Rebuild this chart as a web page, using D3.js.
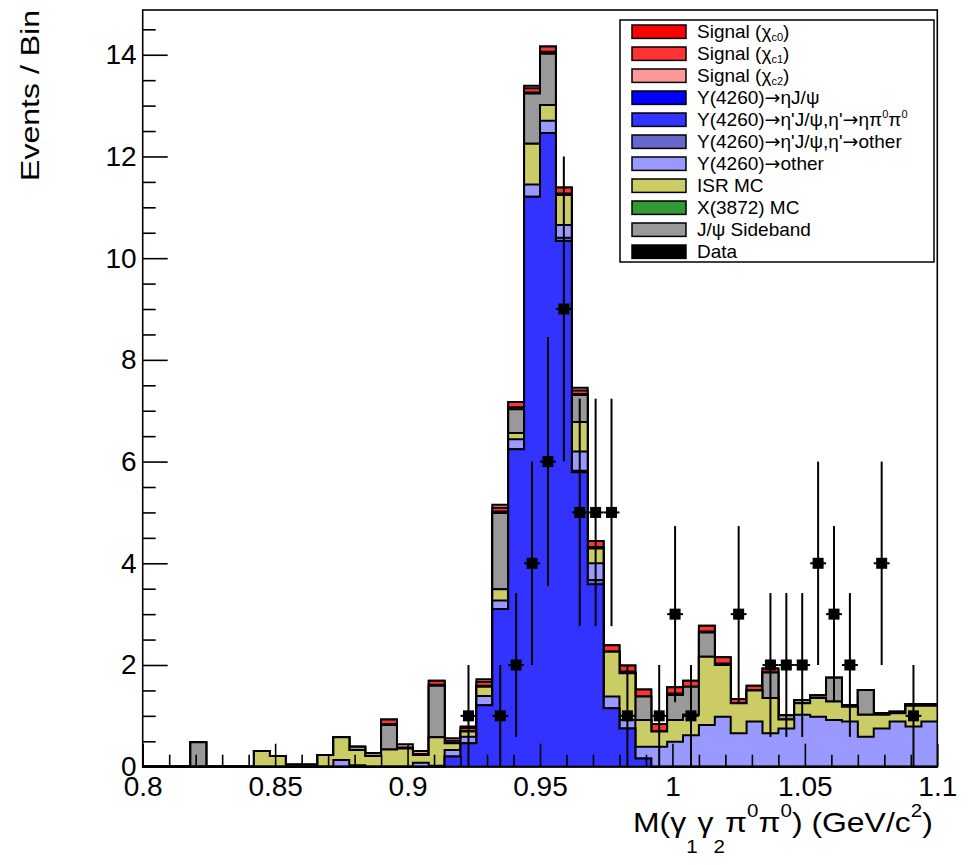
<!DOCTYPE html>
<html><head><meta charset="utf-8">
<script src="https://cdn.jsdelivr.net/npm/d3@7"></script>
<style>
body{margin:0;background:#fff}
svg{font-family:"Liberation Sans",Arial,Helvetica,sans-serif;display:block}
</style>
</head><body>
<svg id="chart" width="973" height="865"></svg>
<script>
// ---------- data ----------
const binStart = 0.8, binWidth = 0.006, nBins = 50;
const xTickValues = [0.8, 0.85, 0.9, 0.95, 1.0, 1.05, 1.1];
const xTickLabels = ["0.8", "0.85", "0.9", "0.95", "1", "1.05", "1.1"];
const yTickValues = [0, 2, 4, 6, 8, 10, 12, 14];
const yTickLabels = ["0", "2", "4", "6", "8", "10", "12", "14"];

const etaJpsi = [0,0,0,0,0,0,0,0,0,0, 0,0,0,0,0,0,0,0,0,0, 0,0,0,0,0,0,0,0,0,0, 0,0,0,0,0,0,0,0,0,0, 0,0,0,0,0,0,0,0,0,0];
const etaPrimeEtaPiPi = [0,0,0,0,0,0,0,0,0,0, 0,0,0,0,0,0,0,0,0,0.20, 0.46,1.21,3.10,6.24,11.21,12.46,10.34,5.79,3.59,1.15, 0.75,0.16,0,0,0,0,0,0,0,0, 0,0,0,0,0,0,0,0,0,0];
const etaPrimeOther = [0,0,0,0,0,0,0,0,0,0, 0,0,0,0,0,0,0,0,0,0, 0,0,0,0,0,0,0.06,0.03,0.08,0, 0,0,0,0,0,0,0,0,0,0, 0,0,0,0,0,0,0,0,0,0];
const otherY = [0,0,0,0,0,0,0,0,0,0, 0,0,0.13,0.03,0,0,0,0.08,0.02,0.13, 0.13,0.18,0.17,0.20,0.24,0.24,0.25,0.38,0.33,0.23, 0.17,0.23,0.39,0.49,0.62,0.82,0.98,0.66,0.89,0.66, 0.75,1.02,0.98,0.92,0.89,0.59,0.75,0.89,0.79,0.89];
const isrMC = [0,0,0,0,0,0,0,0.31,0.21,0.04, 0.04,0.23,0.45,0.30,0.21,0.34,0.36,0.15,0.56,0.13, 0.10,0.18,0.22,0.12,0.80,0.31,0.59,0.58,0.29,0.88, 0.92,0.53,0.30,0.43,0.40,1.34,1.02,0.59,0.61,0.69, 0.18,0.23,0.37,0.36,0.29,0.43,0.27,0.16,0.41,0.31];
const x3872MC = [0,0,0,0,0,0,0,0,0,0, 0,0,0,0,0,0,0,0,0,0, 0,0,0,0,0,0,0,0,0,0, 0,0,0,0,0,0,0,0,0,0, 0,0,0,0,0,0,0,0,0,0];
const jpsiSideband = [0,0,0,0.48,0,0,0,0,0,0, 0,0,0,0.06,0.06,0.48,0,0,1.01,0, 0,0,1.50,0.47,0.99,1.01,0,0.53,0,0, 0,0.46,0,0.49,0.55,0.48,0,0,0,0.50, 0.08,0.06,0.05,0.47,0.03,0.49,0.03,0.03,0.03,0.03];
const signalC0 = [0,0,0,0,0,0,0,0,0,0, 0,0,0,0,0,0.02,0,0,0.02,0, 0,0.02,0.03,0.04,0.02,0.04,0.03,0.02,0.03,0, 0.03,0,0,0.03,0,0.02,0.03,0,0,0, 0,0,0,0,0,0,0,0,0,0];
const signalC1 = [0,0,0,0,0,0,0,0,0,0, 0,0,0,0,0,0.09,0.02,0.02,0.08,0.05, 0.07,0.08,0.07,0.10,0.08,0.10,0.12,0.07,0.12,0.13, 0.12,0.14,0.15,0.12,0.12,0.11,0.12,0.08,0.09,0.08, 0,0,0,0,0,0,0,0,0,0];
const signalC2 = [0,0,0,0,0,0,0,0,0,0, 0,0,0,0,0,0,0.06,0.06,0,0.05, 0.03,0.05,0.06,0,0.05,0,0,0.05,0,0, 0,0,0,0,0,0,0,0,0,0, 0,0,0,0,0,0,0,0,0,0];
const dataCounts = [0,0,0,0,0,0,0,0,0,0, 0,0,0,0,0,0,0,0,0,0, 1,0,1,2,4,6,9,5,5,5, 1,0,1,3,1,0,0,3,0,2, 2,2,4,3,2,0,4,0,1,0];

// stacking order bottom -> top, and legend entries
const stackKeys = ["etaJpsi","etaPrimeEtaPiPi","etaPrimeOther","otherY","isrMC","x3872MC","jpsiSideband","signalC0","signalC1","signalC2"];
const stackValues = {etaJpsi, etaPrimeEtaPiPi, etaPrimeOther, otherY, isrMC, x3872MC, jpsiSideband, signalC0, signalC1, signalC2};
const colors = {
  signalC0:"#ff0000", signalC1:"#ff3333", signalC2:"#ff9999",
  etaJpsi:"#0000ff", etaPrimeEtaPiPi:"#3333ff", etaPrimeOther:"#6666cc",
  otherY:"#9999ff", isrMC:"#cccc66", x3872MC:"#339933", jpsiSideband:"#999999", data:"#000000"
};
const legendKeys = ["signalC0","signalC1","signalC2","etaJpsi","etaPrimeEtaPiPi","etaPrimeOther","otherY","isrMC","x3872MC","jpsiSideband","data"];
const legendLabels = [
  [["Signal (\u03c7",""],["c0","sub"],[")",""]],
  [["Signal (\u03c7",""],["c1","sub"],[")",""]],
  [["Signal (\u03c7",""],["c2","sub"],[")",""]],
  [["Y(4260)\u2192\u03b7J/\u03c8",""]],
  [["Y(4260)\u2192\u03b7'J/\u03c8,\u03b7'\u2192\u03b7\u03c0",""],["0","sup"],["\u03c0",""],["0","sup"]],
  [["Y(4260)\u2192\u03b7'J/\u03c8,\u03b7'\u2192other",""]],
  [["Y(4260)\u2192other",""]],
  [["ISR MC",""]],
  [["X(3872) MC",""]],
  [["J/\u03c8 Sideband",""]],
  [["Data",""]]
];
const xTitle = [["M(\u03b3",""],["1","sub"],["\u03b3",""],["2","sub"],["\u03c0",""],["0","sup"],["\u03c0",""],["0","sup"],[") (GeV/c",""],["2","sup"],[")",""]];
const yTitle = "Events / Bin";

// ---------- layout ----------
const X0 = 142.7, X1 = 937.3, Y0 = 766.7, Y1 = 10;
const svg = d3.select("#chart");
const x = d3.scaleLinear().domain([0.8, 1.1]).range([X0, X1]);
const y = d3.scaleLinear().domain([0, 14.88]).range([Y0, Y1]);

const binEdges = d3.range(nBins + 1).map(i => +(binStart + i * binWidth).toFixed(4));
const rows = d3.range(nBins).map(i => {
  const r = {};
  stackKeys.forEach(k => r[k] = stackValues[k][i]);
  return r;
});
const series = d3.stack().keys(stackKeys)(rows);

const area = d3.area().x(d => x(d.x)).y0(y(0)).y1(d => y(d.y)).curve(d3.curveStepAfter);
const line = d3.line().x(d => x(d.x)).y(d => y(d.y)).curve(d3.curveStepAfter);

const gStack = svg.append("g");
series.slice().reverse().forEach(s => {
  const pts = s.map((d, i) => ({x: binEdges[i], y: d[1]}));
  pts.push({x: binEdges[nBins], y: s[nBins - 1][1]});
  gStack.append("path").attr("d", area(pts)).attr("fill", colors[s.key]).attr("stroke", "none");
  gStack.append("path").attr("d", line(pts)).attr("fill", "none").attr("stroke", "#000").attr("stroke-width", 2);
});

// ---------- axes ----------
const fontFam = '"Liberation Sans",Arial,Helvetica,sans-serif';
const xMinor = d3.range(0, 31).map(i => +(0.8 + i * 0.01).toFixed(3)).filter(v => !xTickValues.some(t => Math.abs(t - v) < 1e-6));
const yMinor = d3.range(0, 30).map(i => i * 0.5).filter(v => v % 2 !== 0);

function styleAxis(g) {
  g.select(".domain").remove();
  g.attr("font-family", fontFam).attr("font-size", 28);
  g.selectAll("line").attr("stroke", "#000").attr("stroke-width", 1.6);
  g.selectAll("text").attr("fill", "#000");
}
svg.append("g").attr("transform", `translate(0,${Y0})`)
  .call(d3.axisBottom(x).tickValues(xMinor).tickSizeInner(-12).tickSizeOuter(0).tickFormat(""))
  .call(styleAxis);
svg.append("g").attr("transform", `translate(0,${Y0})`)
  .call(d3.axisBottom(x).tickValues(xTickValues).tickSizeInner(-23).tickSizeOuter(0).tickPadding(9)
        .tickFormat((d, i) => xTickLabels[i]))
  .call(styleAxis);
svg.append("g").attr("transform", `translate(${X0},0)`)
  .call(d3.axisLeft(y).tickValues(yMinor).tickSizeInner(-13).tickSizeOuter(0).tickFormat(""))
  .call(styleAxis);
svg.append("g").attr("transform", `translate(${X0},0)`)
  .call(d3.axisLeft(y).tickValues(yTickValues).tickSizeInner(-25).tickSizeOuter(0).tickPadding(6)
        .tickFormat((d, i) => yTickLabels[i]))
  .call(styleAxis);

// frame
svg.append("rect").attr("x", X0).attr("y", Y1).attr("width", X1 - X0).attr("height", Y0 - Y1)
  .attr("fill", "none").attr("stroke", "#000").attr("stroke-width", 1.6);

// ---------- data points ----------
const gData = svg.append("g");
dataCounts.forEach((n, i) => {
  if (n <= 0) return;
  const cx = x((binEdges[i] + binEdges[i + 1]) / 2), cy = y(n), e = Math.sqrt(n);
  gData.append("line").attr("x1", cx).attr("x2", cx).attr("y1", y(n - e)).attr("y2", y(n + e))
    .attr("stroke", "#000").attr("stroke-width", 2);
  gData.append("line").attr("x1", x(binEdges[i])).attr("x2", x(binEdges[i + 1])).attr("y1", cy).attr("y2", cy)
    .attr("stroke", "#000").attr("stroke-width", 2);
  gData.append("rect").attr("x", cx - 5.5).attr("y", cy - 5.5).attr("width", 11).attr("height", 11).attr("fill", "#000");
});

// ---------- rich text helper ----------
function richText(sel, segs, size, subSize, subShift, supShift) {
  let cur = 0;
  segs.forEach(([t, kind]) => {
    const target = kind === "sub" ? subShift : kind === "sup" ? -supShift : 0;
    if (kind) {
      sel.append("tspan").attr("dy", target - cur).attr("font-size", subSize).text(t);
      cur = target;
      return;
    }
    const parts = t.split(/(\u2192)/);
    parts.forEach(p => {
      if (!p) return;
      const ts = sel.append("tspan").attr("dy", target - cur).attr("font-size", size).text(p);
      cur = target;
      if (p === "\u2192") ts.attr("font-family", '"DejaVu Sans",sans-serif');
    });
  });
}

// axis titles (right-aligned at the frame edge, slightly widened like the original font)
const xt = svg.append("text").attr("x", 0).attr("y", 831.7).attr("font-size", 28).attr("fill", "#000");
richText(xt, xTitle, 28, 18, 21, 15);
{
  const b = xt.node().getBBox();
  const s = Math.min(1.15, 300 / b.width);
  xt.attr("transform", `translate(${933},0) scale(${s},1) translate(${-(b.x + b.width)},0)`);
}

const yt = svg.append("text").attr("transform", "translate(39,10) rotate(-90)")
  .attr("text-anchor", "end").attr("font-size", 25).attr("fill", "#000");
yt.append("tspan").text(yTitle);
{
  const w = yt.node().getBBox().width;
  yt.attr("transform", `translate(39,10) rotate(-90) scale(${171 / w},1)`);
}

// ---------- legend ----------
const lg = svg.append("g");
lg.append("rect").attr("x", 620).attr("y", 20).attr("width", 314).attr("height", 242)
  .attr("fill", "#fff").attr("stroke", "#000").attr("stroke-width", 1.5);
legendKeys.forEach((k, i) => {
  const cy = 31.7 + 22 * i;
  lg.append("rect").attr("x", 632).attr("y", cy - 6.7).attr("width", 54).attr("height", 13.4)
    .attr("fill", colors[k]).attr("stroke", "#000").attr("stroke-width", 1.5);
  const t = lg.append("text").attr("x", 697).attr("y", cy + 6.7).attr("font-size", 19).attr("fill", "#000");
  richText(t, legendLabels[i], 19, 11, 3, 8);
});
</script>
</body></html>
